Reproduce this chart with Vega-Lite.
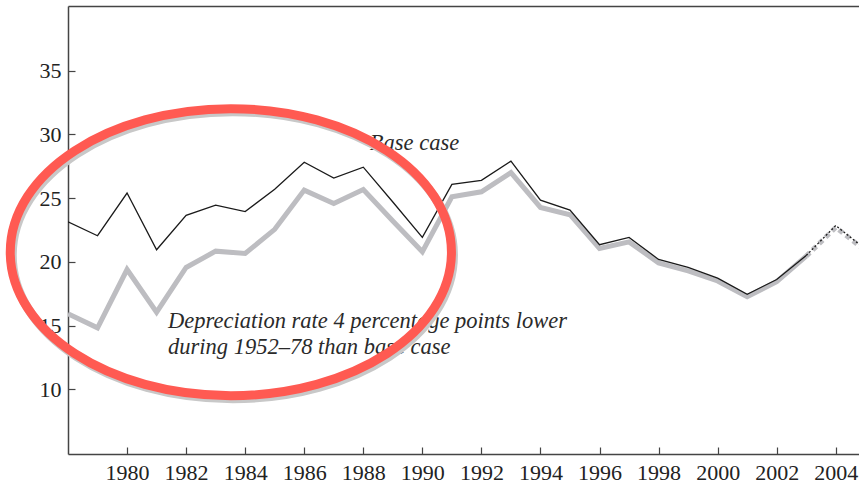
{
  "$schema": "https://vega.github.io/schema/vega-lite/v6.json",
  "width": 791,
  "height": 448,
  "autosize": {"type": "none"},
  "padding": {"left": 68, "top": 6, "right": 0, "bottom": 31},
  "background": "white",
  "config": {
    "view": {"stroke": null},
    "axis": {
      "labelFont": "Liberation Serif",
      "labelFontSize": 22,
      "labelColor": "#222222",
      "domainColor": "#444444",
      "domainWidth": 1.5,
      "tickColor": "#444444",
      "tickWidth": 1.2,
      "grid": false
    }
  },
  "datasets": {
    "series": [
      {"year": 1978, "series": "base", "value": 23.15},
      {"year": 1979, "series": "base", "value": 22.05},
      {"year": 1980, "series": "base", "value": 25.4},
      {"year": 1981, "series": "base", "value": 20.95},
      {"year": 1982, "series": "base", "value": 23.65},
      {"year": 1983, "series": "base", "value": 24.45},
      {"year": 1984, "series": "base", "value": 23.95},
      {"year": 1985, "series": "base", "value": 25.7},
      {"year": 1986, "series": "base", "value": 27.82},
      {"year": 1987, "series": "base", "value": 26.57},
      {"year": 1988, "series": "base", "value": 27.43},
      {"year": 1989, "series": "base", "value": 24.7},
      {"year": 1990, "series": "base", "value": 21.92},
      {"year": 1991, "series": "base", "value": 26.08},
      {"year": 1992, "series": "base", "value": 26.4},
      {"year": 1993, "series": "base", "value": 27.9},
      {"year": 1994, "series": "base", "value": 24.84},
      {"year": 1995, "series": "base", "value": 24.06},
      {"year": 1996, "series": "base", "value": 21.35},
      {"year": 1997, "series": "base", "value": 21.92},
      {"year": 1998, "series": "base", "value": 20.19},
      {"year": 1999, "series": "base", "value": 19.56},
      {"year": 2000, "series": "base", "value": 18.72},
      {"year": 2001, "series": "base", "value": 17.46},
      {"year": 2002, "series": "base", "value": 18.61},
      {"year": 2003, "series": "base", "value": 20.5},
      {"year": 2004, "series": "base", "value": 22.85},
      {"year": 2005, "series": "base", "value": 21.0},
      {"year": 1978, "series": "low", "value": 15.92},
      {"year": 1979, "series": "low", "value": 14.82},
      {"year": 1980, "series": "low", "value": 19.4},
      {"year": 1981, "series": "low", "value": 16.05},
      {"year": 1982, "series": "low", "value": 19.56},
      {"year": 1983, "series": "low", "value": 20.84},
      {"year": 1984, "series": "low", "value": 20.66},
      {"year": 1985, "series": "low", "value": 22.55},
      {"year": 1986, "series": "low", "value": 25.63},
      {"year": 1987, "series": "low", "value": 24.58},
      {"year": 1988, "series": "low", "value": 25.68},
      {"year": 1989, "series": "low", "value": 23.2},
      {"year": 1990, "series": "low", "value": 20.79},
      {"year": 1991, "series": "low", "value": 25.1},
      {"year": 1992, "series": "low", "value": 25.5},
      {"year": 1993, "series": "low", "value": 27.0},
      {"year": 1994, "series": "low", "value": 24.27},
      {"year": 1995, "series": "low", "value": 23.7},
      {"year": 1996, "series": "low", "value": 21.05},
      {"year": 1997, "series": "low", "value": 21.57},
      {"year": 1998, "series": "low", "value": 19.92},
      {"year": 1999, "series": "low", "value": 19.3},
      {"year": 2000, "series": "low", "value": 18.5},
      {"year": 2001, "series": "low", "value": 17.26},
      {"year": 2002, "series": "low", "value": 18.45},
      {"year": 2003, "series": "low", "value": 20.45},
      {"year": 2004, "series": "low", "value": 22.7},
      {"year": 2005, "series": "low", "value": 20.9}
    ],
    "notes": [
      {"year": 1988.22, "value": 28.74, "label": "Base case"},
      {"year": 1981.39, "value": 14.82, "label": "Depreciation rate 4 percentage points lower"},
      {"year": 1981.39, "value": 12.78, "label": "during 1952–78 than base case"}
    ],
    "ring": [{"year": 1983.515, "value": 20.76}]
  },
  "layer": [
    {
      "data": {"name": "series"},
      "transform": [{"filter": "datum.series === 'low' && datum.year <= 2003"}],
      "mark": {"type": "line", "color": "#bdbdc1", "strokeWidth": 5, "strokeJoin": "miter", "clip": true},
      "encoding": {
        "x": {"field": "year", "type": "quantitative", "scale": {"domain": [1978, 2004.787], "nice": false, "zero": false},
              "title": null,
              "axis": {"values": [1980, 1982, 1984, 1986, 1988, 1990, 1992, 1994, 1996, 1998, 2000, 2002, 2004], "format": "d", "tickSize": -7, "labelPadding": 15}},
        "y": {"field": "value", "type": "quantitative", "scale": {"domain": [4.92, 40.08], "nice": false, "zero": false},
              "title": null,
              "axis": {"values": [10, 15, 20, 25, 30, 35], "tickSize": -7, "labelPadding": 14}}
      }
    },
    {
      "data": {"name": "series"},
      "transform": [{"filter": "datum.series === 'low' && datum.year >= 2003"}],
      "mark": {"type": "line", "color": "#bdbdc1", "strokeWidth": 5, "strokeDash": [5, 4], "clip": true},
      "encoding": {
        "x": {"field": "year", "type": "quantitative", "axis": null},
        "y": {"field": "value", "type": "quantitative"}
      }
    },
    {
      "data": {"name": "series"},
      "transform": [{"filter": "datum.series === 'base' && datum.year <= 2003"}],
      "mark": {"type": "line", "color": "#1a1a1a", "strokeWidth": 1.3, "clip": true},
      "encoding": {
        "x": {"field": "year", "type": "quantitative", "axis": null},
        "y": {"field": "value", "type": "quantitative"}
      }
    },
    {
      "data": {"name": "series"},
      "transform": [{"filter": "datum.series === 'base' && datum.year >= 2003"}],
      "mark": {"type": "line", "color": "#1a1a1a", "strokeWidth": 1.3, "strokeDash": [2, 2], "clip": true},
      "encoding": {
        "x": {"field": "year", "type": "quantitative", "axis": null},
        "y": {"field": "value", "type": "quantitative"}
      }
    },
    {
      "data": {"name": "notes"},
      "mark": {"type": "text", "align": "left", "baseline": "alphabetic", "font": "Liberation Serif", "fontStyle": "italic", "fontSize": 22.5, "color": "#2a2a2a"},
      "encoding": {
        "x": {"field": "year", "type": "quantitative", "axis": null},
        "y": {"field": "value", "type": "quantitative"},
        "text": {"field": "label"}
      }
    },
    {
      "data": {"name": "ring"},
      "mark": {"type": "point", "shape": "M -1 0 C -1 -0.3593 -0.5523 -0.6505 0 -0.6505 C 0.5523 -0.6505 1 -0.3593 1 0 C 1 0.3593 0.5523 0.6505 0 0.6505 C -0.5523 0.6505 -1 0.3593 -1 0 Z", "size": 194657, "filled": false, "stroke": "#c8c8c8", "strokeWidth": 9, "opacity": 1, "xOffset": 2, "yOffset": 3},
      "encoding": {
        "x": {"field": "year", "type": "quantitative", "axis": null},
        "y": {"field": "value", "type": "quantitative"}
      }
    },
    {
      "data": {"name": "ring"},
      "mark": {"type": "point", "shape": "M -1 0 C -1 -0.3593 -0.5523 -0.6505 0 -0.6505 C 0.5523 -0.6505 1 -0.3593 1 0 C 1 0.3593 0.5523 0.6505 0 0.6505 C -0.5523 0.6505 -1 0.3593 -1 0 Z", "size": 194657, "filled": false, "stroke": "#ff5a52", "strokeWidth": 9, "opacity": 1},
      "encoding": {
        "x": {"field": "year", "type": "quantitative",
              "axis": {"orient": "top", "labels": false, "ticks": false, "domain": true, "title": null}},
        "y": {"field": "value", "type": "quantitative"}
      }
    }
  ],
  "resolve": {"axis": {"x": "independent"}}
}
